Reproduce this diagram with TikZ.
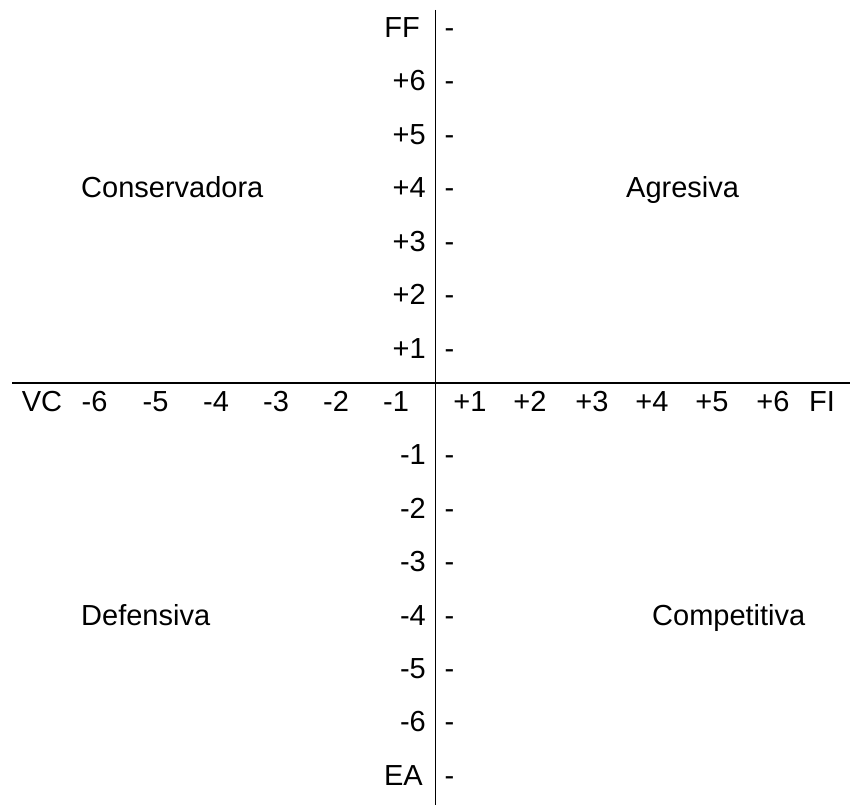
\documentclass[tikz,border=0pt]{standalone}
\usepackage{fontspec}
\setmainfont{Liberation Sans}
\begin{document}
\begin{tikzpicture}[x=1pt,y=-1pt,
  lab/.style={inner sep=0pt,font=\fontsize{29}{34}\selectfont},
  axisline/.style={line width=1.6pt}]
\useasboundingbox (0,0) rectangle (850,805);
% axes
\coordinate (vtop) at (435.5,10);
\coordinate (vbot) at (435.5,805);
\coordinate (hleft) at (12,383);
\coordinate (hright) at (850,383);
\draw[axisline] (vtop) -- (vbot);
\draw[axisline] (hleft) -- (hright);
% vertical axis labels
\node[lab,anchor=base east] (vFF) at (420,37.6) {FF};
\foreach \k/\t in {1/+6,2/+5,3/+4,4/+3,5/+2,6/+1,8/-1,9/-2,10/-3,11/-4,12/-5,13/-6}
  \node[lab,anchor=base east] (v\k) at (426,{37.6+53.4*\k}) {\t};
\node[lab,anchor=base east] (vEA) at (423,785.2) {EA};
% dashes
\foreach \k in {0,1,2,3,4,5,6,8,9,10,11,12,13,14}
  \node[lab,anchor=base] (d\k) at (449.5,{37.6+53.4*\k}) {-};
% horizontal axis labels
\foreach \x/\t/\n in {42/VC/hVC,94.5/-6/hm6,155.5/-5/hm5,216/-4/hm4,276/-3/hm3,336/-2/hm2,396/-1/hm1,
  470/+1/hp1,530/+2/hp2,592/+3/hp3,652/+4/hp4,712/+5/hp5,773/+6/hp6,822/FI/hFI}
  \node[lab,anchor=base] (\n) at (\x,411.4) {\t};
% quadrant labels
\node[lab,anchor=base west] (cons) at (81,197.8) {Conservadora};
\node[lab,anchor=base west] (agre) at (626,197.8) {Agresiva};
\node[lab,anchor=base west] (defe) at (81,625) {Defensiva};
\node[lab,anchor=base west] (comp) at (652,625) {Competitiva};
\end{tikzpicture}
\end{document}
